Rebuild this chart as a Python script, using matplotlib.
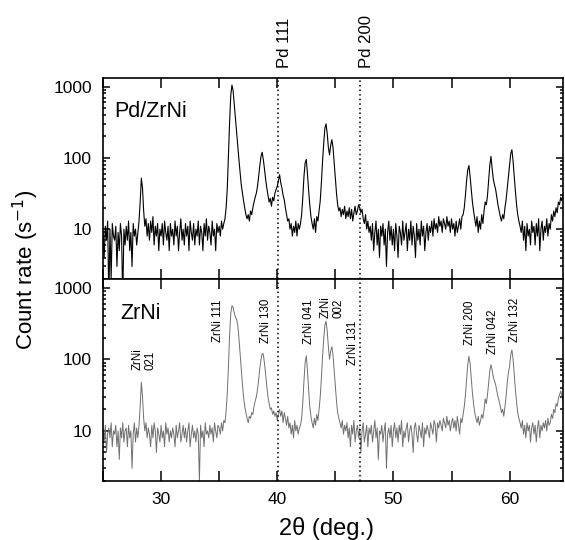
import numpy as np
import matplotlib
matplotlib.use("Agg")
from matplotlib import pyplot as plt
from matplotlib.ticker import LogLocator, FixedLocator, NullFormatter, FixedFormatter
from matplotlib.transforms import blended_transform_factory

plt.rcParams['font.family'] = ['Liberation Sans', 'DejaVu Sans']

# scan grid, 25.0 .. 64.9 deg in 0.1 deg steps
two_theta = np.round(np.arange(25.0, 65.0, 0.1), 1)

# count rates, one row per degree
pd_zrni_rows = [
    "9 4 11 7 13 1 10 2 12 8",
    "7 11 3 9 5 12 8 1 10 6",
    "11 7 13 5 9 3 12 8 10 6",
    "9 13 24 52 38 18 11 14 8 12",
    "7 13 9 15 6 11 8 12 5 10",
    "8 12 6 13 9 7 11 5 12 8",
    "10 6 13 8 11 5 9 14 7 10",
    "6 12 8 11 5 13 9 7 12 6",
    "10 8 13 6 11 9 5 12 8 14",
    "7 11 9 6 13 8 10 5 12 9",
    "11 8 13 10 12 14 20 38 110 320",
    "760 1050 880 560 360 230 150 95 62 42",
    "32 25 20 16 14 16 13 18 16 20",
    "24 28 32 40 55 78 105 120 95 70",
    "50 38 30 24 27 21 28 25 32 36",
    "40 48 58 45 38 30 26 20 16 13",
    "14 10 12 8 11 9 13 8 12 10",
    "12 16 28 55 85 95 60 35 22 15",
    "12 10 14 9 15 13 18 25 45 90",
    "160 260 300 220 140 110 150 180 140 85",
    "50 32 22 18 20 15 19 16 21 14",
    "18 15 20 14 19 13 17 21 16 18",
    "22 20 17 19 14 12 16 10 13 9",
    "11 7 12 5 9 13 6 10 4 11",
    "8 12 6 10 3 9 13 7 11 6",
    "10 5 12 8 4 11 9 6 13 7",
    "9 12 5 10 7 13 6 11 8 4",
    "12 7 10 6 13 8 11 5 9 12",
    "7 11 9 13 8 14 10 12 9 15",
    "11 13 9 14 12 10 15 11 13 9",
    "14 10 12 8 13 9 11 14 10 15",
    "16 20 30 48 68 78 55 36 24 18",
    "14 11 15 9 13 10 16 12 18 24",
    "22 30 48 80 105 70 50 42 36 28",
    "22 18 15 13 16 14 20 26 38 55",
    "80 115 130 90 55 34 22 16 13 11",
    "9 13 7 11 5 12 8 10 6 13",
    "9 11 6 12 8 14 5 10 13 7",
    "11 9 14 8 12 10 16 13 18 15",
    "20 17 24 22 28 25 30 26 22 18",
]

zrni_rows = [
    "10 7 12 5 9 11 8 13 6 10",
    "9 12 6 10 4 11 8 13 7 10",
    "11 6 12 8 10 3 9 13 7 11",
    "8 12 22 48 30 15 10 13 8 11",
    "9 6 12 8 13 10 5 11 9 7",
    "12 8 10 6 13 9 11 7 10 8",
    "11 9 6 12 8 10 13 7 9 12",
    "8 11 7 10 13 6 9 12 8 10",
    "7 11 9 2 12 8 10 6 13 9",
    "10 8 12 9 11 7 13 10 8 12",
    "11 9 13 10 14 13 19 34 80 220",
    "440 560 530 440 390 360 300 200 120 72",
    "45 30 22 18 15 13 16 15 18 17",
    "22 26 30 38 52 75 100 120 118 88",
    "62 42 30 24 20 21 17 19 16 18",
    "14 17 20 16 19 13 18 15 12 16",
    "11 13 9 12 8 14 10 12 9 11",
    "12 15 25 50 90 112 70 38 22 16",
    "13 11 15 12 17 14 20 30 55 110",
    "190 300 340 250 150 100 130 150 115 70",
    "42 26 18 15 13 11 14 9 12 10",
    "13 8 11 6 12 9 14 7 10 12",
    "8 11 5 10 13 7 9 12 6 11",
    "9 12 7 10 14 8 11 4 10 9",
    "12 7 10 13 3 9 11 8 12 6",
    "10 13 8 11 7 12 9 14 6 10",
    "8 11 13 7 10 12 9 5 11 13",
    "9 7 12 10 8 13 6 11 9 12",
    "10 8 13 11 9 14 12 7 13 11",
    "14 12 10 15 13 11 16 12 14 10",
    "13 15 11 14 10 16 12 9 15 13",
    "17 22 32 52 85 110 88 55 34 24",
    "18 15 13 16 12 14 17 15 20 28",
    "24 32 48 70 84 70 56 50 44 36",
    "30 26 22 18 20 16 22 30 48 65",
    "80 115 135 100 62 38 25 18 15 13",
    "11 14 9 12 8 13 10 12 7 11",
    "13 9 12 7 11 14 8 12 10 13",
    "11 14 10 15 12 13 17 15 20 18",
    "24 22 28 32 36 30 26 20 18 16",
]

pd_zrni = np.array(" ".join(pd_zrni_rows).split(), dtype=float)
zrni = np.array(" ".join(zrni_rows).split(), dtype=float)

# Pd reference lines
pd_lines = [40.05, 47.1]
pd_labels = ["Pd 111", "Pd 200"]

# ZrNi reflections in the lower panel: (x, y centre, text)
peak_x = [28.5, 34.9, 39.0, 42.7, 44.7, 46.5, 56.55, 58.6, 60.5]
peak_y = [100, 340, 345, 330, 540, 170, 320, 246, 350]
peak_txt = ["ZrNi\n021", "ZrNi 111", "ZrNi 130", "ZrNi 041", "ZrNi\n002",
            "ZrNi 131", "ZrNi 200", "ZrNi 042", "ZrNi 132"]

fig = plt.figure(figsize=(5.65, 5.4), dpi=100)
ax_top = fig.add_axes([0.1823, 0.4833, 0.8142, 0.3723])
ax_bot = fig.add_axes([0.1823, 0.1093, 0.8142, 0.3740])

ax_top.plot(two_theta, pd_zrni, color='black', lw=0.8)
ax_bot.plot(two_theta, zrni, color='#707070', lw=0.7)

for ax in (ax_top, ax_bot):
    ax.set_yscale('log')
    ax.set_xlim(25, 64.6)
    ax.set_ylim(2, 1320)
    ax.yaxis.set_major_locator(FixedLocator([10, 100, 1000]))
    ax.yaxis.set_major_formatter(FixedFormatter(["10", "100", "1000"]))
    ax.yaxis.set_minor_locator(LogLocator(base=10, subs=np.arange(2, 10)))
    ax.yaxis.set_minor_formatter(NullFormatter())
    ax.xaxis.set_major_locator(FixedLocator([30, 40, 50, 60]))
    ax.xaxis.set_minor_locator(FixedLocator([25, 35, 45, 55, 65]))
    ax.tick_params(which='both', direction='in', top=True, right=True,
                   labelsize=12.5, width=1.1, pad=8)
    ax.tick_params(which='major', axis='y', length=5)
    ax.tick_params(which='minor', axis='y', length=2.5)
    ax.tick_params(which='both', axis='x', length=7)
    for s in ax.spines.values():
        s.set_linewidth(1.2)
    for xv in pd_lines:
        ax.axvline(xv, color='black', ls=(0, (1, 2)), lw=1.1)

ax_top.tick_params(axis='x', labelbottom=False)

ax_top.text(25.95, 450, "Pd/ZrNi", fontsize=15.5, va='center', ha='left')
ax_bot.text(26.5, 436, "ZrNi", fontsize=15.5, va='center', ha='left')

trans = blended_transform_factory(ax_top.transData, ax_top.transAxes)
for xv, lab in zip(pd_lines, pd_labels):
    ax_top.text(xv + 0.6, 1.05, lab, rotation=90, fontsize=12,
                ha='center', va='bottom', transform=trans)

for xv, yv, t in zip(peak_x, peak_y, peak_txt):
    ax_bot.text(xv, yv, t, rotation=90, fontsize=8.3, ha='center', va='center',
                multialignment='left', linespacing=1.1)

fig.text(0.046, 0.5, "Count rate (s$^{-1}$)", rotation=90, fontsize=16,
         ha='center', va='center')
fig.text(0.577, 0.009, "2\u03b8 (deg.)", fontsize=17, ha='center', va='baseline')

fig.savefig("out.png", dpi=100)
